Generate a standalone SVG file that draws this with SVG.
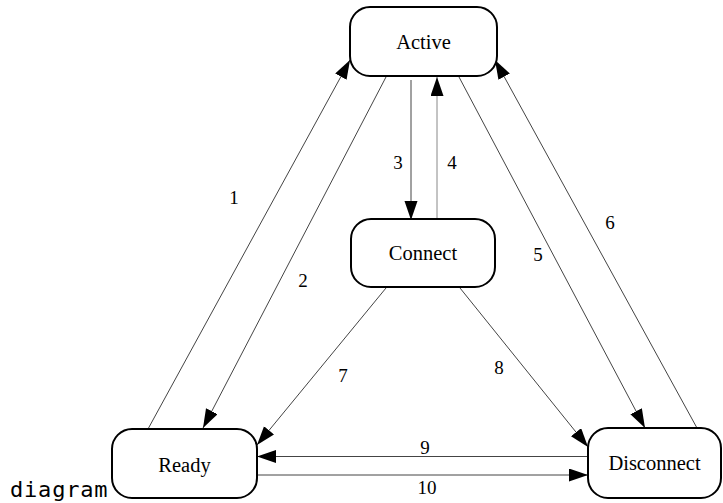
<svg xmlns="http://www.w3.org/2000/svg" width="723" height="503" viewBox="0 0 723 503">
<style>
.node rect{fill:#fff;stroke:#000;stroke-width:2}
.node text{font-family:"Liberation Serif","Times New Roman",serif;font-size:20.5px;text-anchor:middle;fill:#000}
.edge{stroke:#444;stroke-width:1;fill:none;marker-end:url(#arr)}
.lbl{font-family:"Liberation Serif","Times New Roman",serif;font-size:19px;text-anchor:middle;fill:#000}
.cap{font-family:"DejaVu Sans Mono",monospace;font-size:22px;fill:#000;letter-spacing:0.8px}
</style>
<defs>
<marker id="arr" markerUnits="userSpaceOnUse" markerWidth="20" markerHeight="14" refX="19" refY="6.5" orient="auto" viewBox="0 0 20 14">
<path d="M0,0 L19,6.5 L0,13 Z" fill="#000"/>
</marker>
</defs>
<g id="connectors">
<line class="edge" x1="148" y1="429" x2="350" y2="60"/>
<line class="edge" x1="386" y1="77" x2="203" y2="428"/>
<line class="edge" x1="411" y1="80" x2="411" y2="220"/>
<line class="edge" x1="437" y1="220" x2="437" y2="77" style="stroke:#888"/>
<line class="edge" x1="459" y1="77" x2="645" y2="428"/>
<line class="edge" x1="697" y1="428" x2="495" y2="60"/>
<line class="edge" x1="386" y1="288" x2="257" y2="445"/>
<line class="edge" x1="460" y1="288" x2="588" y2="447"/>
<line class="edge" x1="588" y1="456.5" x2="257" y2="456.5"/>
<line class="edge" x1="258" y1="475" x2="588" y2="475"/>
<text class="lbl" x="234" y="204">1</text>
<text class="lbl" x="303" y="287">2</text>
<text class="lbl" x="398" y="169">3</text>
<text class="lbl" x="452" y="169">4</text>
<text class="lbl" x="538" y="261">5</text>
<text class="lbl" x="610" y="229">6</text>
<text class="lbl" x="343" y="382">7</text>
<text class="lbl" x="499" y="374">8</text>
<text class="lbl" x="425" y="454">9</text>
<text class="lbl" x="427" y="494">10</text>
</g>
<g id="active" class="node">
<rect x="350" y="7" width="147" height="69" rx="20" ry="20"/>
<text x="423.5" y="49">Active</text>
</g>
<g id="connect" class="node">
<rect x="351" y="219" width="144" height="68" rx="20" ry="20"/>
<text x="423" y="260">Connect</text>
</g>
<g id="ready" class="node">
<rect x="112" y="429" width="145" height="69" rx="20" ry="20"/>
<text x="184.5" y="472">Ready</text>
</g>
<g id="disconnect" class="node">
<rect x="588" y="428" width="133" height="70" rx="20" ry="20"/>
<text x="654.5" y="470">Disconnect</text>
</g>
<text class="cap" x="10" y="497">diagram</text>
</svg>
